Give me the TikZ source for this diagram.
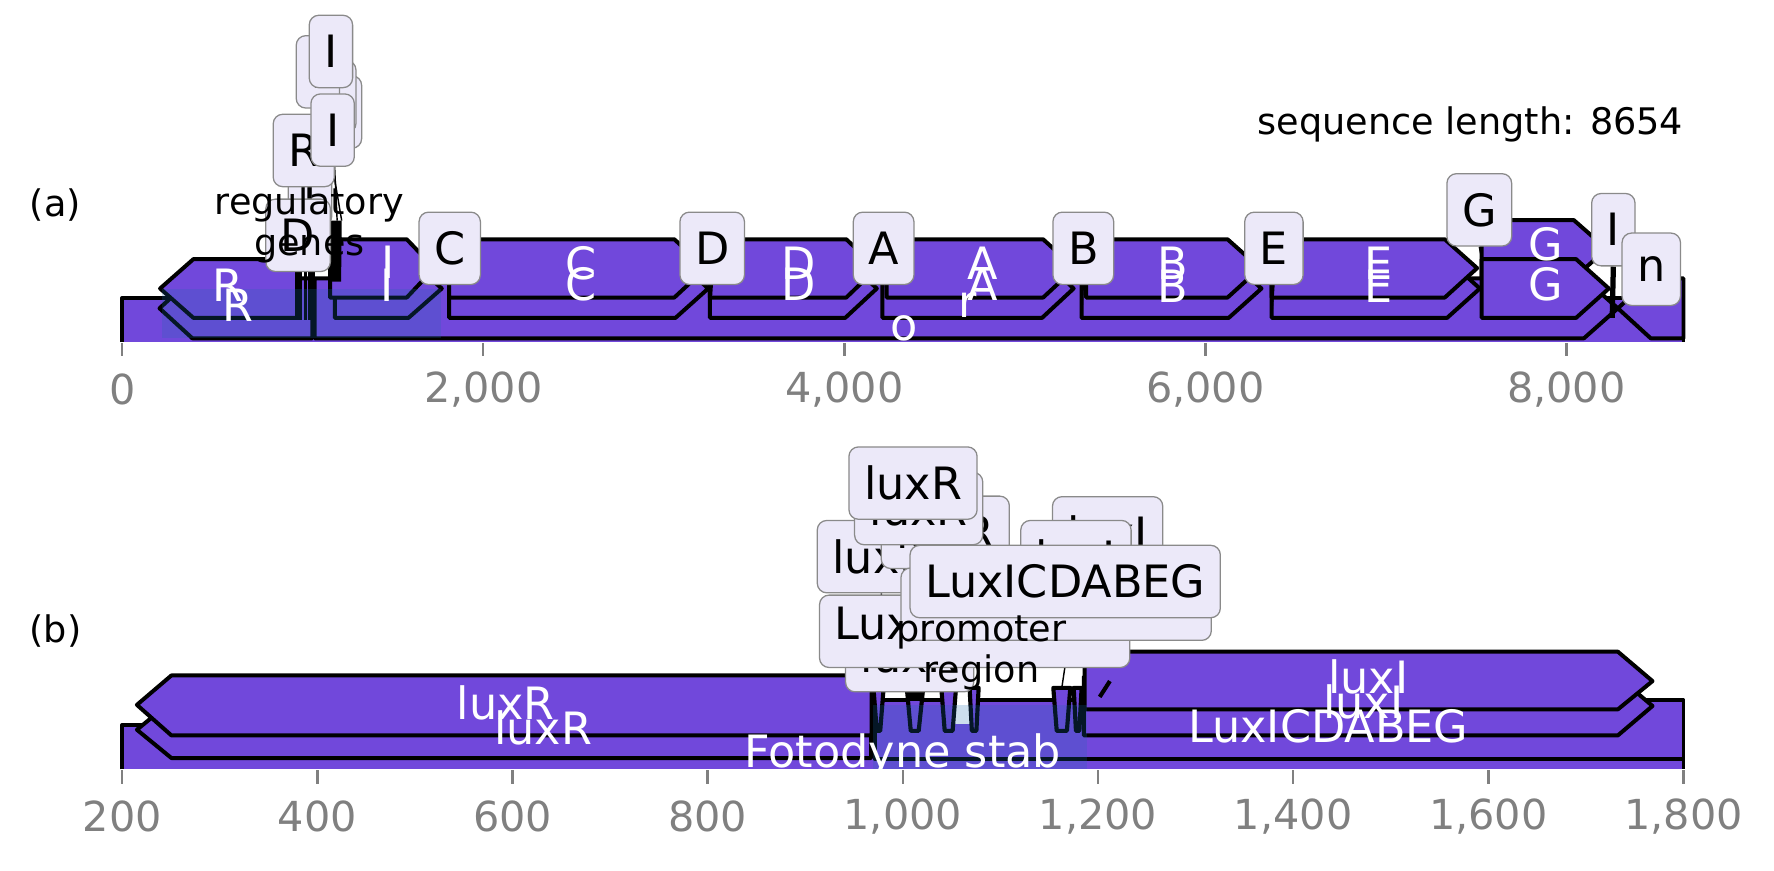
\documentclass[tikz,border=0pt]{standalone}
\usepackage{fontspec}
\setmainfont{DejaVu Sans}
\usepackage{tikz}
\definecolor{featpurple}{HTML}{7148DB}
\definecolor{boxfill}{HTML}{ECE9F9}
\definecolor{boxline}{HTML}{8A8A8A}
\definecolor{tickgray}{HTML}{808080}
\definecolor{spanblue}{RGB}{27,107,174}
\newcommand{\featfont}{\fontsize{28}{32}\selectfont}
\newcommand{\notefont}{\fontsize{23}{25.6}\selectfont}
\newcommand{\axisfont}{\fontsize{26}{30}\selectfont}
\pgfdeclarelayer{links}
\pgfdeclarelayer{boxes}
\pgfsetlayers{main,links,boxes}

\begin{document}
\begin{tikzpicture}[x=0.025cm, y=-0.025cm,
    feat/.style={draw=black, line width=2.5pt, fill=featpurple, line join=round},
    slim/.style={draw=black, line width=2.6pt, fill=featpurple, line join=round},
    lbox/.style={draw=boxline, fill=boxfill, line width=0.8pt, rounded corners=6pt,
                 minimum height=45.5pt, inner xsep=9.5pt, inner ysep=0pt, font=\featfont},
    flab/.style={text=white, font=\featfont},
    note/.style={font=\notefont, align=center},
    link/.style={draw=black, line width=0.9pt},
    span/.style={fill=spanblue, fill opacity=0.22},
    tickmark/.style={draw=tickgray, line width=1.6pt},
    ticklab/.style={text=tickgray, font=\axisfont}]
\useasboundingbox (0,0) rectangle (1568,769);

% ---- panel (a)
\node[note] (tagA) at (49,181) {(a)};
\node[note, anchor=east, inner sep=0pt] (seqlen) at (1488,110) {sequence length: 8654};

\draw[feat] (108,302) -- (108,263.5) -- (1488,263.5) -- (1488,302);
% level B
\draw[feat] (276,246) -- (170,246) -- (141,272.5) -- (170,299) -- (276,299) -- cycle;
\draw[feat] (278,246) -- (1400,246) -- (1430,272.5) -- (1400,299) -- (278,299) -- cycle;
\draw[feat] (1488,246) -- (1459,246) -- (1430,272.5) -- (1459,299) -- (1488,299) -- cycle;
% level C
\draw[feat] (262.5,229) -- (171,229) -- (141.5,255) -- (171,281) -- (262.5,281) -- cycle;
\draw[feat] (296,229) -- (361,229) -- (390.5,255) -- (361,281) -- (296,281) -- cycle;
\draw[feat] (397,229) -- (597,229) -- (626,255) -- (597,281) -- (397,281) -- cycle;
\draw[feat] (627.5,229) -- (747,229) -- (775,255) -- (747,281) -- (627.5,281) -- cycle;
\draw[feat] (780,229) -- (921,229) -- (949,255) -- (921,281) -- (780,281) -- cycle;
\draw[feat] (956,229) -- (1086,229) -- (1115,255) -- (1086,281) -- (956,281) -- cycle;
\draw[feat] (1124,229) -- (1279,229) -- (1308,255) -- (1279,281) -- (1124,281) -- cycle;
% level D
\draw[feat] (291.7,211.5) -- (359.5,211.5) -- (384,237) -- (359.5,263) -- (291.7,263) -- cycle;
\draw[feat] (397,211.5) -- (596,211.5) -- (624,237) -- (596,263) -- (397,263) -- cycle;
\draw[feat] (627.5,211.5) -- (748,211.5) -- (775,237) -- (748,263) -- (627.5,263) -- cycle;
\draw[feat] (783.6,211.5) -- (922,211.5) -- (950,237) -- (922,263) -- (783.6,263) -- cycle;
\draw[feat] (960,211.5) -- (1085,211.5) -- (1113.7,237) -- (1085,263) -- (960,263) -- cycle;
\draw[feat] (1124,211.5) -- (1277,211.5) -- (1305.6,237) -- (1277,263) -- (1124,263) -- cycle;
% G pair
\draw[feat] (1309.6,194.5) -- (1391,194.5) -- (1420,220) -- (1391,246) -- (1309.6,246) -- cycle;
\draw[feat] (1309.6,229) -- (1393,229) -- (1422,255) -- (1393,281) -- (1309.6,281) -- cycle;
% narrow regulatory features
\fill[black] (261,236) rectangle (267,283);
\draw[black, line width=2pt] (270,236) -- (270,283);
\draw[black, line width=2pt] (273.5,236) -- (273.5,283);
\draw[black, line width=2.5pt] (277,236) -- (277,299);
\fill[black] (290,195) -- (302,195) -- (301.5,249) -- (291,249) -- cycle;

\fill[span] (143,255.6) rectangle (389.5,298.6);

\node[flab] (labR1) at (201.5,252.5) {R};
\node[flab] (labR2) at (210,270) {R};
\node[flab] (labI1) at (343,232) {I};
\node[flab] (labI2) at (342,252) {I};
\node[flab] (labC1) at (514,233) {C};
\node[flab] (labC2) at (514,251) {C};
\node[flab] (labD1) at (706,233) {D};
\node[flab] (labD2) at (706,251) {D};
\node[flab] (labA1) at (868.5,233) {A};
\node[flab] (labA2) at (868.5,251) {A};
\node[flab] (labr) at (855,270) {r};
\node[flab] (labo) at (799,290) {o};
\node[flab] (labB1) at (1037,233) {B};
\node[flab] (labB2) at (1037,253) {B};
\node[flab] (labE1) at (1218.6,233) {E};
\node[flab] (labE2) at (1218.6,253) {E};
\node[flab] (labG1) at (1366,216) {G};
\node[flab] (labG2) at (1366,251) {G};

\foreach \x/\t [count=\i] in {108/0, 427.1/{2,000}, 746.2/{4,000}, 1065.3/{6,000}, 1384.4/{8,000}} {
  \draw[tickmark] (\x,303) -- (\x,315);
  \node[ticklab] (tickA\i) at (\x,344) {\t};
}

\begin{pgfonlayer}{boxes}
\node[lbox] (boxC) at (397.5,219.5) {C};
\node[lbox] (boxD) at (629.5,219.5) {D};
\node[lbox] (boxA) at (781,219.5) {A};
\node[lbox] (boxB) at (957.5,219.5) {B};
\node[lbox] (boxE) at (1126,219.5) {E};
\node[lbox] (boxG) at (1307.5,185.5) {G};
\node[lbox] (boxIr) at (1426,203) {I};
\node[lbox] (boxN) at (1459.5,238) {n};
% crowded labels
\node[lbox] (boxIa) at (300.5,99) {I};
\node[lbox] (boxIb) at (295.5,85.5) {I};
\node[lbox] (boxIc) at (281,63.5) {I};
\node[lbox] (boxId) at (292.5,45.5) {I};
\node[lbox] (boxIe) at (274,168) {I};
\node[lbox] (boxDreg) at (263.5,208) {D};
\node[note] (regnote) at (273.5,199) {regulatory\\genes};
\node[lbox] (boxR) at (268.5,133) {R};
\node[lbox] (boxIm) at (294,115) {I};
\end{pgfonlayer}

\begin{pgfonlayer}{links}
\coordinate (featC) at (397,281);
\coordinate (featD) at (627.5,281);
\coordinate (featA) at (780,281);
\coordinate (featB) at (956,281);
\coordinate (featE) at (1124,281);
\coordinate (featG) at (1309.6,229);
\coordinate (featIr) at (1425,281);
\coordinate (featIm) at (302,195);
\coordinate (featId) at (298,195);
\coordinate (featR) at (263,236);
\draw[link] (boxC.south) -- (featC);
\draw[link] (boxD.south) -- (featD);
\draw[link] (boxA.south) -- (featA);
\draw[link] (boxB.south) -- (featB);
\draw[link] (boxE.south) -- (featE);
\draw[link] (boxG.south) -- (featG);
\draw[black, line width=3.3pt] (boxIr.south) -- (featIr);
\draw[link] (boxIm.south) -- (featIm);
\draw[link] (boxId.south) -- (featId);
\draw[link] (boxR.south) -- (featR);
\end{pgfonlayer}

% ---- panel (b)
\node[note] (tagB) at (49,558) {(b)};

\draw[feat] (108,680) -- (108,641) -- (1488,641) -- (1488,680);
\draw[feat] (770,620) -- (151.5,620) -- (121,645) -- (151.5,670) -- (770,670) -- cycle;
\draw[feat] (773,619) rectangle (1488,671);
\fill[white] (841,616) rectangle (857,639.5);
\draw[feat] (770.5,597) -- (151.5,597) -- (121,623) -- (151.5,650) -- (770.5,650) -- cycle;
\draw[feat] (958,598) -- (1430,598) -- (1460.6,624) -- (1430,650) -- (958,650) -- cycle;
\draw[feat] (958.6,576) -- (1430,576) -- (1460.6,602) -- (1430,627) -- (958.6,627) -- cycle;
% narrow promoter features
\draw[slim] (772,608) -- (775,646) -- (778,646) -- (781,608) -- cycle;
\draw[slim] (801.5,608) -- (805,646) -- (812,646) -- (816,608) -- cycle;
\fill[black] (803,608) rectangle (814,620);
\draw[slim] (832,608) -- (835,646) -- (842,646) -- (845,608) -- cycle;
\draw[slim] (857,608) -- (859,646) -- (863,646) -- (865,608) -- cycle;
\draw[slim] (931,608) -- (934,646) -- (943,646) -- (946,608) -- cycle;
\draw[slim] (949,608) -- (951,646) -- (954,646) -- (956,608) -- cycle;
\draw[black, line width=2.6pt] (981,602) -- (972,616);

\fill[span] (772,623) rectangle (960.5,680);

\begin{scope}
\clip (0,0) rectangle (1568,680);
\node[flab] (labLuxR1) at (447,621) {luxR};
\node[flab] (labLuxR2) at (480,643) {luxR};
\node[flab, anchor=base] (labFoto) at (798,678) {Fotodyne stab};
\node[flab] (labLuxI1) at (1209.5,598) {luxI};
\node[flab] (labLuxI2) at (1205,620) {luxI};
\node[flab] (labOperon) at (1174,642) {LuxICDABEG};
\end{scope}

\foreach \x/\t [count=\i] in {108/200, 280.5/400, 453/600, 625.5/800, 798/{1,000},
    970.5/{1,200}, 1143/{1,400}, 1315.5/{1,600}, 1488/{1,800}} {
  \draw[tickmark] (\x,681) -- (\x,693);
  \node[ticklab] (tickB\i) at (\x,721.5) {\t};
}

\begin{pgfonlayer}{boxes}
\node[lbox] (boxRlow) at (804,579.5) {luxR};
\node[lbox] (boxRleft) at (779,492) {luxR};
\node[lbox] (boxRc) at (835.5,470.5) {luxR};
\node[lbox] (boxRb) at (812,449.5) {luxR};
\node[lbox] (boxRtop) at (807,427) {luxR};
\node[lbox] (boxIa2) at (979,471) {luxI};
\node[lbox] (boxIb2) at (951,492) {luxI};
\node[lbox, text depth=10pt] (boxLuxA) at (861.5,558) {LuxICDABEG};
\node[lbox, text depth=7pt] (boxLuxB) at (933.5,534) {LuxICDABEG};
\node[lbox] (boxLuxC) at (941.5,514) {LuxICDABEG};
\node[note] (promnote) at (867.5,577) {promoter\\region};
\end{pgfonlayer}

\begin{pgfonlayer}{links}
\coordinate (featRa) at (776.5,608);
\coordinate (featRb) at (808.75,608);
\coordinate (featIx) at (938.5,608);
\draw[link] (boxRlow.south) -- (featRb);
\draw[link] (boxRleft.south) -- (featRa);
\draw[link] (boxIb2.south) -- (featIx);
\end{pgfonlayer}
\end{tikzpicture}
\end{document}
